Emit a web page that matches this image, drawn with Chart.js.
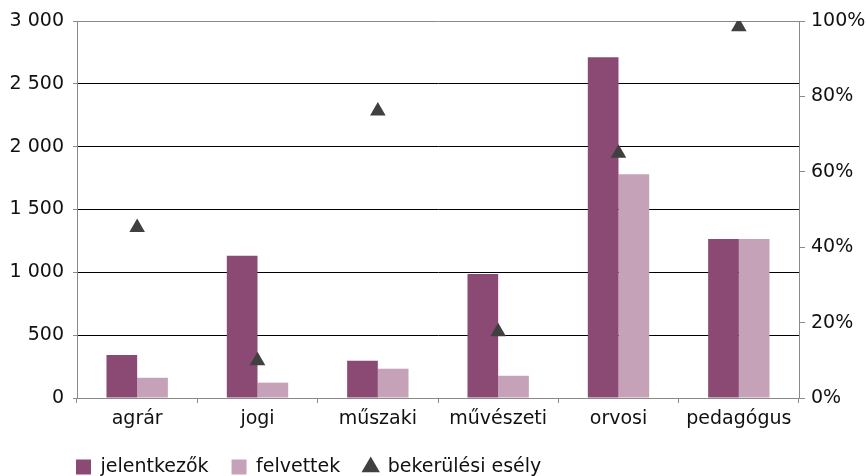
<!DOCTYPE html>
<html>
<head>
<meta charset="utf-8">
<script src="https://cdn.jsdelivr.net/npm/chart.js@4.4.1/dist/chart.umd.min.js"></script>
<style>
  html, body { margin: 0; padding: 0; background: #fff; }
  #wrap { width: 866px; height: 476px; }
</style>
</head>
<body>
<div id="wrap"><canvas id="chart" width="866" height="476"></canvas></div>
<script>
// data
const categories = ['agrár', 'jogi', 'műszaki', 'művészeti', 'orvosi', 'pedagógus'];
const applicants = [342, 1131, 296, 987, 2712, 1265];   // jelentkezők
const admitted = [161, 122, 233, 177, 1780, 1265];      // felvettek
const chance = [0.452, 0.099, 0.761, 0.176, 0.649, 0.985]; // bekerülési esély
const leftTicks = ['0', '500', '1 000', '1 500', '2 000', '2 500', '3 000'];
const rightTicks = ['0%', '20%', '40%', '60%', '80%', '100%'];

const DARK = '#8b4a73';
const LIGHT = '#c5a2b8';
const MARK = '#404040';
const AXIS = '#8a8a8a';
const LEGEND_H = 30;

Chart.defaults.font.family = "'DejaVu Sans', sans-serif";
Chart.defaults.font.size = 19;
Chart.defaults.color = '#111';

// keep the legend box short and put it where the original has it
const legendShift = {
    id: 'legendShift',
    beforeLayout(chart) {
        const lg = chart.legend;
        if (lg && !lg._patched) {
            const fit = lg.fit.bind(lg);
            lg.fit = function () { fit(); this.height = LEGEND_H; };
            lg._patched = true;
        }
    },
    beforeDraw(chart) {
        chart.legend.left = 53;
        chart.legend.top = 434.5;
    }
};

new Chart(document.getElementById('chart'), {
    type: 'bar',
    data: {
        labels: categories,
        datasets: [
            {
                label: 'jelentkezők',
                data: applicants,
                backgroundColor: DARK,
                borderWidth: 0,
                yAxisID: 'y',
                order: 1
            },
            {
                label: 'felvettek',
                data: admitted,
                backgroundColor: LIGHT,
                borderWidth: 0,
                yAxisID: 'y',
                order: 1
            },
            {
                type: 'line',
                label: 'bekerülési esély',
                data: chance,
                showLine: false,
                pointStyle: 'triangle',
                pointRadius: 9,
                pointBorderWidth: 0,
                backgroundColor: MARK,
                borderColor: MARK,
                borderWidth: 0,
                yAxisID: 'y1',
                order: 0
            }
        ]
    },
    options: {
        responsive: false,
        animation: false,
        layout: { padding: { top: 21, left: 0, right: 0, bottom: 0 } },
        datasets: {
            bar: { categoryPercentage: 0.51, barPercentage: 1 }
        },
        scales: {
            x: {
                grid: {
                    drawOnChartArea: false,
                    tickLength: 5,
                    color: AXIS
                },
                border: { color: AXIS },
                ticks: { padding: 5, maxRotation: 0 },
                afterFit(scale) {
                    scale.height = 78 - LEGEND_H;
                }
            },
            y: {
                position: 'left',
                min: 0,
                max: 3000,
                ticks: {
                    stepSize: 500,
                    padding: 9,
                    callback: (v, i) => leftTicks[i]
                },
                grid: {
                    color: ctx => ctx.index === 6 ? AXIS : '#000',
                    tickColor: AXIS,
                    tickLength: 4
                },
                border: { color: AXIS },
                afterFit(scale) { scale.width = 77; }
            },
            y1: {
                position: 'right',
                min: 0,
                max: 1,
                ticks: {
                    stepSize: 0.2,
                    padding: 6,
                    callback: (v, i) => rightTicks[i]
                },
                grid: {
                    drawOnChartArea: false,
                    color: AXIS,
                    tickLength: 6
                },
                border: { color: AXIS },
                afterFit(scale) { scale.width = 67; }
            }
        },
        plugins: {
            tooltip: { enabled: false },
            legend: {
                position: 'bottom',
                align: 'start',
                labels: {
                    usePointStyle: true,
                    boxHeight: 15,
                    boxWidth: 15,
                    padding: 23,
                    color: '#111',
                    generateLabels(chart) {
                        const items = Chart.defaults.plugins.legend.labels.generateLabels(chart);
                        items.forEach(it => {
                            it.pointStyle = it.datasetIndex === 2 ? 'triangle' : 'rect';
                            it.lineWidth = 0;
                        });
                        return items.sort((a, b) => a.datasetIndex - b.datasetIndex);
                    }
                }
            }
        }
    },
    plugins: [legendShift]
});
</script>
</body>
</html>
